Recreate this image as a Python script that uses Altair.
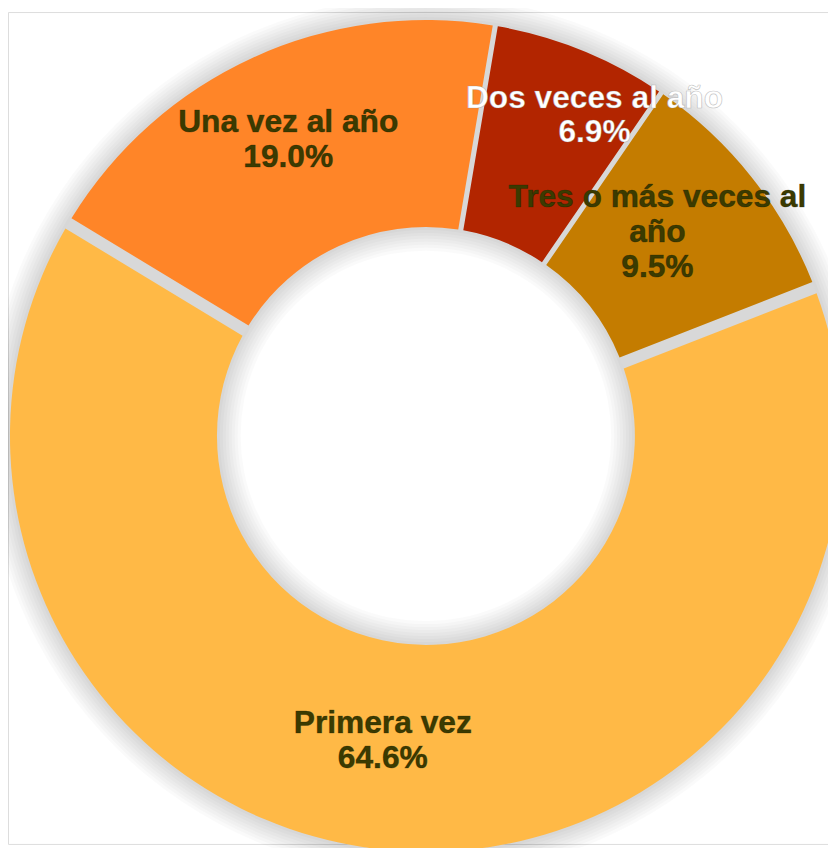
import math
import altair as alt
import pandas as pd

# ---- data ----
categories = ["Dos veces al año", "Tres o más veces al año", "Primera vez", "Una vez al año"]
label_names = ["Dos veces al año", "Tres o más veces al\naño", "Primera vez", "Una vez al año"]
percentages = [6.9, 9.5, 64.6, 19.0]
slice_colors = ["#B22500", "#C47C00", "#FFB946", "#FF8528"]

df = pd.DataFrame({
    "categoria": categories,
    "nombre": label_names,
    "pct": percentages,
    "orden": list(range(len(categories))),
})

W, H = 828, 840
CX, CY = 422, 428
R_OUT, R_IN = 420, 211
START = math.radians(9.6)
TWO_PI = 2 * math.pi

theta_scale = alt.Scale(domain=[0, 100], range=[START, START + TWO_PI])
color_scale = alt.Scale(domain=categories, range=slice_colors)

base = alt.Chart(df).transform_window(
    fin="sum(pct)", sort=[alt.SortField("orden")], frame=[None, 0]
).transform_calculate(
    ini="datum.fin - datum.pct",
    mid="datum.fin - datum.pct / 2",
    etiqueta="datum.nombre + '\\n' + format(datum.pct, '.1f') + '%'",
)

blank = alt.Data(values=[{}])
layers = []

# soft outer shadow / glow
for k in range(1, 9):
    layers.append(
        alt.Chart(blank).mark_arc(
            color="black", opacity=0.018, theta=0, theta2=TWO_PI,
            radius=R_OUT - 2, radius2=R_OUT + 3 * k,
        ).encode(x=alt.value(CX), y=alt.value(CY))
    )
# soft inner shadow in hole
for k in range(1, 9):
    layers.append(
        alt.Chart(blank).mark_arc(
            color="black", opacity=0.02, theta=0, theta2=TWO_PI,
            radius=R_IN - 3 * k, radius2=R_IN + 2,
        ).encode(x=alt.value(CX), y=alt.value(CY))
    )
# grey ring visible in gaps
layers.append(
    alt.Chart(blank).mark_arc(
        color="#d8d8d8", theta=0, theta2=TWO_PI, radius=R_IN, radius2=R_OUT,
    ).encode(x=alt.value(CX), y=alt.value(CY))
)

arc_enc = dict(
    theta=alt.Theta("ini:Q", scale=theta_scale),
    theta2=alt.Theta2("fin:Q"),
    color=alt.Color("categoria:N", scale=color_scale, legend=None),
    x=alt.value(CX),
    y=alt.value(CY),
)
layers.append(
    base.transform_filter(alt.datum.categoria != "Primera vez")
    .mark_arc(radius=R_OUT, radius2=R_IN, padAngle=0.011)
    .encode(**arc_enc)
)
layers.append(
    base.transform_filter(alt.datum.categoria == "Primera vez")
    .mark_arc(radius=R_OUT, radius2=R_IN, padAngle=0.040)
    .encode(**arc_enc)
)

# labels
offsets = {
    "Una vez al año": (-10, -35, "#3b3b00", "#1a1a00"),
    "Dos veces al año": (54, -54, "#ffffff", "#8a8a8a"),
    "Tres o más veces al año": (-9, -48, "#3b3b00", "#1a1a00"),
    "Primera vez": (-17, -19, "#3b3b00", "#1a1a00"),
}
text_props = dict(
    radius=310, align="center", baseline="middle", lineBreak="\n",
    lineHeight=35, font="Liberation Sans", fontWeight="bold", fontSize=32,
)
for cat, (dx, dy, col, edge) in offsets.items():
    sub = base.transform_filter(alt.datum.categoria == cat)
    enc = dict(
        theta=alt.Theta("mid:Q", scale=theta_scale),
        text=alt.Text("etiqueta:N"),
        x=alt.value(CX),
        y=alt.value(CY),
    )
    layers.append(
        sub.mark_text(dx=dx, dy=dy, color=col, stroke=edge, strokeWidth=0.7,
                      strokeOpacity=0.5, **text_props).encode(**enc)
    )

chart = alt.layer(*layers).properties(
    width=W, height=H, padding=0, autosize=alt.AutoSizeParams(type="none"),
).configure_view(strokeWidth=0).configure(background="white")

chart.save("out.html", embed_options={"renderer": "svg", "actions": False})
